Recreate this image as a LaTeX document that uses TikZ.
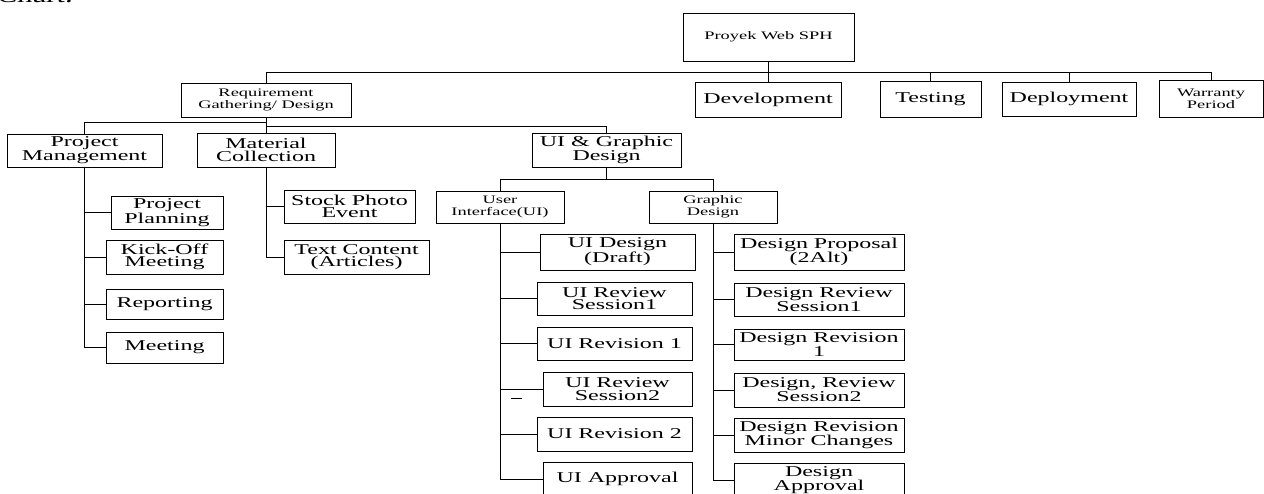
\documentclass[tikz,border=0pt]{standalone}
\usepackage{fontspec}
\setmainfont{Liberation Serif}[FakeStretch=1.6]
\newfontfamily\chartfont{Liberation Serif}[FakeStretch=1.4, FakeSlant=0.25]
\tikzset{
  box/.style={draw, line width=0.9pt, inner sep=0pt, outer sep=0pt, align=center,
    font=\fontsize{15}{12.5}\selectfont},
  smalltxt/.style={font=\fontsize{11.5}{12}\selectfont},
  conn/.style={line width=0.8pt}
}
\newcommand\bx[7][]{\node[box,#1,minimum width={#5-#3},minimum height={#6-#4}] (#2) at ({(#3+#5)/2},{(#4+#6)/2}) {#7};}
\begin{document}
\begin{tikzpicture}[x=1pt,y=-1pt]
\useasboundingbox (0,0) rectangle (1264,494);
\node[anchor=base east, font=\chartfont\fontsize{22}{22}\selectfont] (chart) at (76,3) {Chart.};
% level 0
\bx[smalltxt]{root}{683}{13}{854}{61}{Proyek Web SPH}
% level 1
\bx[smalltxt]{req}{181}{83}{351}{117}{Requirement\\Gathering/ Design}
\bx{dev}{695}{82}{841}{117}{Development}
\bx{tst}{880}{81}{981}{117}{Testing}
\bx{dep}{1002}{82}{1136}{116}{Deployment}
\bx[smalltxt]{war}{1159}{80}{1263}{117}{Warranty\\Period}
% level 2
\bx{pm}{7}{134}{162}{167}{Project\\Management}
\bx{mc}{197}{133}{335}{167}{Material\\Collection}
\bx{uig}{532}{133}{681}{167}{UI \& Graphic\\Design}
% PM children
\bx{pp}{111}{196}{223}{229}{Project\\Planning}
\bx{ko}{106}{240}{223}{274}{Kick-Off\\Meeting}
\bx{rep}{106}{289}{223}{319}{Reporting}
\bx{mtg}{106}{332}{223}{363}{Meeting}
% MC children
\bx{spe}{284}{190}{415}{223}{Stock Photo\\Event}
\bx{tca}{284}{240}{429}{274}{Text Content\\(Articles)}
% UIG children
\bx[smalltxt]{ui}{436}{191}{564}{223}{User\\Interface(UI)}
\bx[smalltxt]{gd}{649}{191}{777}{223}{Graphic\\Design}
% UI children
\bx{uid}{540}{234}{695}{270}{UI Design\\(Draft)}
\bx{uirs1}{537}{282}{692}{315}{UI Review\\Session1}
\bx{uir1}{537}{327}{692}{360}{UI Revision 1}
\bx{uirs2}{543}{372}{692}{406}{UI Review\\Session2}
\bx{uir2}{537}{417}{692}{451}{UI Revision 2}
\bx{uia}{543}{462}{692}{496}{UI Approval}
% GD children
\bx{dp}{734}{234}{904}{270}{Design Proposal\\(2Alt)}
\bx{drs1}{734}{283}{904}{316}{Design Review\\Session1}
\bx{dr1}{734}{329}{904}{360}{Design Revision\\1}
\bx{drs2}{734}{373}{904}{407}{Design, Review\\Session2}
\bx{drm}{734}{418}{904}{452}{Design Revision\\Minor Changes}
\bx{da}{734}{463}{904}{497}{Design\\Approval}
% connectors level 0 -> 1
\coordinate (bus0) at (root.south |- 0,72);
\draw[conn] (root.south) -- (bus0);
\draw[conn] (req.north) -- (req.north |- bus0) -| (war.north);
\draw[conn] (dev.north) -- (dev.north |- bus0);
\draw[conn] (tst.north) -- (tst.north |- bus0);
\draw[conn] (dep.north) -- (dep.north |- bus0);
% level 1 -> 2
\draw[conn] (req.south) -- (mc.north);
\draw[conn] (pm.north) -- ++(0,-12) -| (req.south);
\draw[conn] (uig.north) -- ++(0,-7) -| (req.south);
% UIG -> UI, GD
\draw[conn] (uig.south) -- ++(0,12);
\draw[conn] (ui.north) -- ++(0,-12) -| (gd.north);
% children
\foreach \c in {pp,ko,rep,mtg} \draw[conn] (pm.south) |- (\c.west);
\foreach \c in {spe,tca} \draw[conn] (mc.south) |- (\c.west);
\foreach \c in {uid,uirs1,uir1,uirs2,uir2,uia} \draw[conn] (ui.south) |- (\c.west);
\foreach \c in {dp,drs1,dr1,drs2,drm,da} \draw[conn] (gd.south) |- (\c.west);
% stray dash
\coordinate (dashA) at (511,398);
\coordinate (dashB) at (522,398);
\draw[conn] (dashA) -- (dashB);
\end{tikzpicture}
\end{document}
